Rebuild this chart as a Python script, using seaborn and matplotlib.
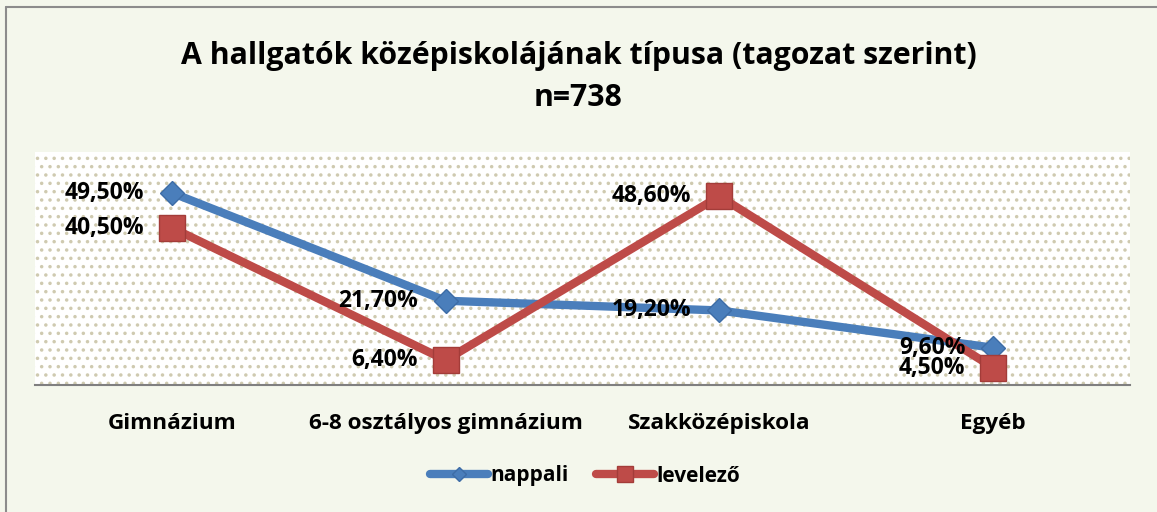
import numpy as np
import pandas as pd
import matplotlib
matplotlib.use("Agg")
import matplotlib.pyplot as plt
from matplotlib.lines import Line2D
from matplotlib.patches import Rectangle
import seaborn as sns

categories = ["Gimnázium", "6-8 osztályos gimnázium", "Szakközépiskola", "Egyéb"]
nappali = [49.5, 21.7, 19.2, 9.6]
levelezo = [40.5, 6.4, 48.6, 4.5]
series_names = ["nappali", "levelező"]

sns.set_theme(style="white")
plt.rcParams['font.family'] = ['Open Sans', 'DejaVu Sans']
plt.rcParams['text.color'] = 'black'
plt.rcParams['xtick.color'] = 'black'
plt.rcParams['hatch.linewidth'] = 1.3

BLUE = "#4a7ebb"
RED = "#be4b48"

df = pd.DataFrame({
    "pos": list(range(len(categories))) * 2,
    "value": nappali + levelezo,
    "series": [series_names[0]] * len(categories) + [series_names[1]] * len(categories),
})

fig = plt.figure(figsize=(11.57, 5.12), dpi=100)
fig.patch.set_facecolor("#f4f7ec")
fig.add_artist(Line2D([6/1157, 6/1157], [0, 1 - 7/512], transform=fig.transFigure, color="#8c8c8c", lw=1.5))
fig.add_artist(Line2D([6/1157, 1], [1 - 7/512, 1 - 7/512], transform=fig.transFigure, color="#8c8c8c", lw=1.5))

ax = fig.add_axes([35/1157, 1 - 385/512, (1130 - 35)/1157, (385 - 152)/512])
ax.set_facecolor("white")
ax.add_patch(Rectangle((0, 0), 1, 1, transform=ax.transAxes, facecolor="none",
                       edgecolor="#cfcab0", hatch="..", lw=0, zorder=0))

sns.lineplot(data=df, x="pos", y="value", hue="series", style="series",
             palette={series_names[0]: BLUE, series_names[1]: RED},
             markers={series_names[0]: "D", series_names[1]: "s"},
             dashes=False, linewidth=6, markersize=17, markeredgewidth=1,
             ax=ax, legend=False, zorder=3)
for ln, ms, ec in zip(ax.lines, [12.5, 19], ["#3d6ca6", "#a33c39"]):
    ln.set_markersize(ms)
    ln.set_markeredgecolor(ec)

for vals in (nappali, levelezo):
    for i, v in enumerate(vals):
        ax.annotate(f"{v:.2f}%".replace(".", ","), (i, v), xytext=(-20, 0),
                    textcoords="offset points", ha="right", va="center",
                    fontsize=16.5, fontweight="bold", color="black", zorder=5)

ax.set_xlim(-0.5, len(categories) - 0.5)
ax.set_ylim(0, 60)
ax.set_xticks(range(len(categories)))
ax.set_xticklabels(categories, fontsize=16.2, fontweight="bold", color="black")
ax.tick_params(axis="x", length=0, pad=20)
ax.set_yticks([])
ax.set_xlabel("")
ax.set_ylabel("")
for s in ["top", "right", "left"]:
    ax.spines[s].set_visible(False)
ax.spines["bottom"].set_color("#7f7f7f")
ax.spines["bottom"].set_linewidth(1.5)

fig.text(0.5, 1 - 56/512, "A hallgatók középiskolájának típusa (tagozat szerint)",
         ha="center", va="center", fontsize=21.8, fontweight="bold", color="black")
fig.text(0.5, 1 - 98/512, "n=738", ha="center", va="center", fontsize=21.8,
         fontweight="bold", color="black")

handles = [
    Line2D([], [], color=BLUE, lw=6, marker="D", markersize=7, markeredgecolor="#3d6ca6"),
    Line2D([], [], color=RED, lw=6, marker="s", markersize=12, markeredgecolor="#a33c39"),
]
fig.legend(handles, series_names, loc="center", bbox_to_anchor=(585/1157, 1 - 476/512),
           ncol=2, frameon=False, handlelength=2.8, handletextpad=0.1, columnspacing=1.3,
           prop={"weight": "bold", "size": 15})

fig.savefig("out.png", dpi=100, facecolor=fig.get_facecolor())
